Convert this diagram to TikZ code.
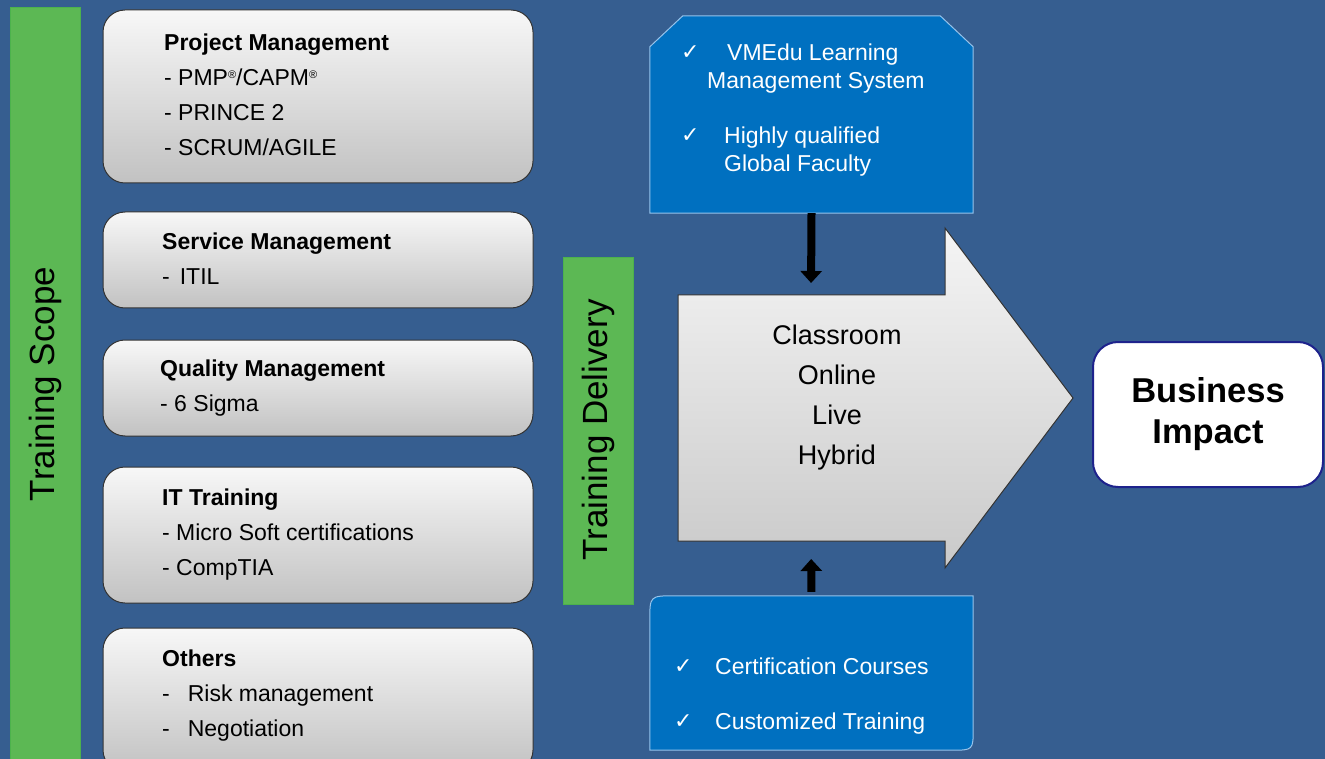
\documentclass[tikz,border=0pt]{standalone}
\usepackage{fontspec}
\setmainfont{Liberation Sans}
\newfontfamily\checkfont{DejaVu Sans}
\usetikzlibrary{arrows.meta}
\definecolor{bgblue}{RGB}{54,94,144}
\definecolor{bargreen}{RGB}{92,184,84}
\definecolor{boxblue}{RGB}{0,112,192}
\definecolor{edgeblue}{RGB}{150,195,235}
\definecolor{impactblue}{RGB}{30,35,140}
\newcommand{\regmark}{\raisebox{7pt}{\fontsize{11}{12}\selectfont ®}}
\tikzset{
	scopebar/.style={fill=bargreen, draw=gray!60!green, line width=1pt},
	bartext/.style={rotate=90, font=\fontsize{35}{40}\selectfont},
	areabox/.style={rectangle, rounded corners=22pt, draw=black!80, line width=1pt, top color=gray!6, bottom color=gray!48, minimum width=430pt, inner sep=0pt},
	areatext/.style={anchor=north west, align=left, inner sep=0pt, font=\fontsize{23}{35}\selectfont},
	bluebox/.style={fill=boxblue, draw=edgeblue, line width=1pt},
	blueshape/.style={minimum width=323pt, inner sep=0pt},
	bluetext/.style={anchor=base west, inner sep=0pt, text=white, font=\fontsize{23}{28}\selectfont},
	tick/.style={anchor=base west, inner sep=0pt, text=white, font=\checkfont\fontsize{22}{24}\selectfont},
	feed/.style={line width=8pt, -{Triangle[width=21pt,length=12pt]}},
}
\begin{document}
\begin{tikzpicture}[x=1pt, y=-1pt]
	  \useasboundingbox (0,0) rectangle (1325,759);
	  \fill[bgblue] (0,0) rectangle (1325,759);
	  % green bars
	  \filldraw[scopebar] (10,8) rectangle (80,770);
	  \node[bartext] (scope) at (45,384) {Training Scope};
	  \filldraw[scopebar] (563,258) rectangle (633,604);
	  \node[bartext] (delivery) at (598,430) {Training Delivery};
	  % training areas
	  \node[areabox, minimum height=173pt] (pm) at (318,96.5) {};
	  \node[areabox, minimum height=96pt] (sm) at (318,260) {};
	  \node[areabox, minimum height=96pt] (qm) at (318,388) {};
	  \node[areabox, minimum height=136pt] (it) at (318,535) {};
	  \node[areabox, minimum height=144pt] (ot) at (318,700) {};
	  \node[areatext] (pmtxt) at (164,34) {\textbf{Project Management}\\- PMP\regmark/CAPM\regmark\\- PRINCE 2\\- SCRUM/AGILE};
	  \node[areatext] (smtxt) at (162,233) {\textbf{Service Management}\\-\hspace{10pt}ITIL};
	  \node[areatext] (qmtxt) at (160,360) {\textbf{Quality Management}\\- 6 Sigma};
	  \node[areatext] (ittxt) at (162,489) {\textbf{IT Training}\\- Micro Soft certifications\\- CompTIA};
	  \node[areatext] (ottxt) at (162,650) {\textbf{Others}\\-\hspace{18pt}Risk management\\-\hspace{18pt}Negotiation};
	  % delivery arrow
	  \path[draw=black!80, line width=1pt, top color=gray!8, bottom color=gray!42] (678,295) -- (945,295) -- (945,228) -- (1073,398) -- (945,568) -- (945,541) -- (678,541) -- cycle;
	  \coordinate (deltop) at (811,295);
	  \coordinate (delbot) at (811,541);
	  \node[align=center, font=\fontsize{27}{40}\selectfont] (modes) at (837,398) {Classroom\\Online\\Live\\Hybrid};
	  % support boxes
	  \node[blueshape, minimum height=197pt] (lms) at (811.5,114.5) {};
	  \path[bluebox] (lms.south west) -- ([yshift=-31pt]lms.north west) -- ([xshift=33pt]lms.north west) -- ([xshift=-33pt]lms.north east) -- ([yshift=-31pt]lms.north east) -- (lms.south east) -- cycle;
	  \node[tick] (tick1) at (681,60) {✓};
	  \node[bluetext] (lms1) at (727,61) {VMEdu Learning};
	  \node[bluetext] (lms2) at (707,89) {Management System};
	  \node[tick] (tick2) at (681,143) {✓};
	  \node[bluetext] (lms3) at (724,144) {Highly qualified};
	  \node[bluetext] (lms4) at (724,172) {Global Faculty};
	  \node[blueshape, minimum height=154pt] (cert) at (811.5,673) {};
	  \path[bluebox] (cert.south west) -- ([yshift=-25pt]cert.north west) .. controls (cert.north west) .. ([xshift=25pt]cert.north west) -- (cert.north east) -- ([yshift=22pt]cert.south east) .. controls (cert.south east) .. ([xshift=-22pt]cert.south east) -- cycle;
	  \node[tick] (tick3) at (674,673) {✓};
	  \node[bluetext] (cert1) at (715,674) {Certification Courses};
	  \node[tick] (tick4) at (674,728) {✓};
	  \node[bluetext] (cert2) at (715,729) {Customized Training};
	  \draw[feed, shorten >=12pt] (lms.south) -- (deltop);
	  \draw[feed, shorten <=4pt, shorten >=18pt] (cert.north) -- (delbot);
	  % result
	  \node[rectangle, rounded corners=25pt, fill=white, draw=impactblue, line width=2pt, minimum width=230pt, minimum height=145pt, align=center, text depth=8pt, font=\bfseries\fontsize{34.5}{41}\selectfont] (impact) at (1208,414.5) {Business\\Impact};
	\end{tikzpicture}
\end{document}
